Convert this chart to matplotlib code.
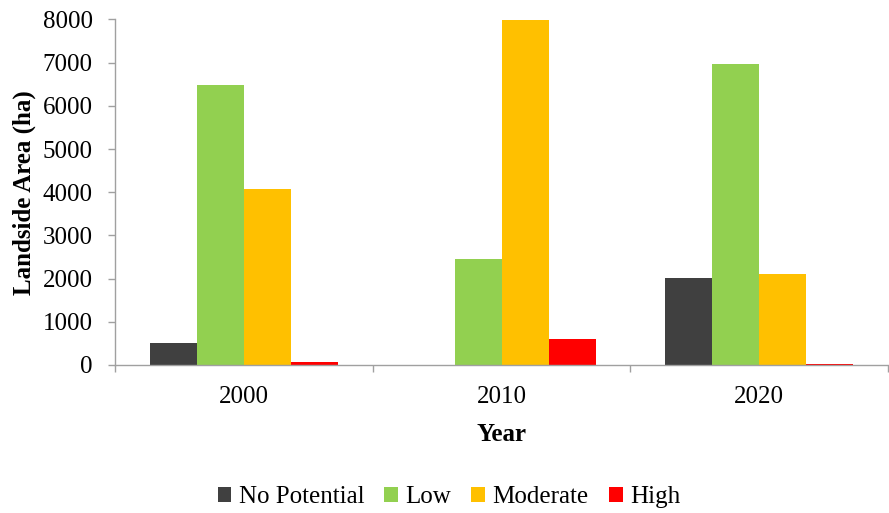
import numpy as np
import matplotlib
matplotlib.use("Agg")
import matplotlib.pyplot as plt
from matplotlib.ticker import FixedLocator, MultipleLocator

plt.rcParams['font.family'] = ['Liberation Serif', 'DejaVu Serif']

years = ['2000', '2010', '2020']
classes = ['No Potential', 'Low', 'Moderate', 'High']
no_potential = [510, 0, 2020]
low = [6490, 2450, 6960]
moderate = [4080, 7995, 2100]
high = [70, 600, 30]
colors = ['#404040', '#92d050', '#ffc000', '#ff0000']

series = [no_potential, low, moderate, high]

fig = plt.figure(figsize=(8.89, 5.13), dpi=100)
ax = fig.add_axes([0.1294, 0.2885, 0.8696, 0.6735])

x = np.arange(len(years))
w = 0.1825
for i, (vals, c, name) in enumerate(zip(series, colors, classes)):
    ax.bar(x + (i - 1.5) * w, vals, width=w, color=c, label=name,
           edgecolor='none', zorder=2)

ax.set_xlim(-0.5, 2.5)
ax.set_ylim(0, 8000)
ax.yaxis.set_major_locator(MultipleLocator(1000))

ax.set_xticks(x)
ax.set_xticklabels(years)
ax.xaxis.set_minor_locator(FixedLocator([-0.5, 0.5, 1.5, 2.5]))

spine_col = '#a0a0a0'
for s in ['top', 'right']:
    ax.spines[s].set_visible(False)
for s in ['left', 'bottom']:
    ax.spines[s].set_color(spine_col)
    ax.spines[s].set_linewidth(1.0)

fs = 18
ax.tick_params(axis='x', which='major', length=0, pad=15, labelsize=fs)
ax.tick_params(axis='x', which='minor', length=5, width=1.0, color=spine_col, direction='out')
ax.tick_params(axis='y', which='major', length=5, width=1.0, color=spine_col,
               direction='out', pad=11, labelsize=fs)

ax.set_xlabel('Year', fontsize=fs, fontweight='bold', labelpad=11)
ax.set_ylabel('Landside Area (ha)', fontsize=fs, fontweight='bold', labelpad=5)

fig.legend(loc='center', bbox_to_anchor=(0.505, 0.031), ncol=4, frameon=False,
           fontsize=fs, handlelength=0.55, handleheight=0.55, handletextpad=0.3,
           columnspacing=0.8, borderaxespad=0)

fig.savefig('out.png', dpi=100)
